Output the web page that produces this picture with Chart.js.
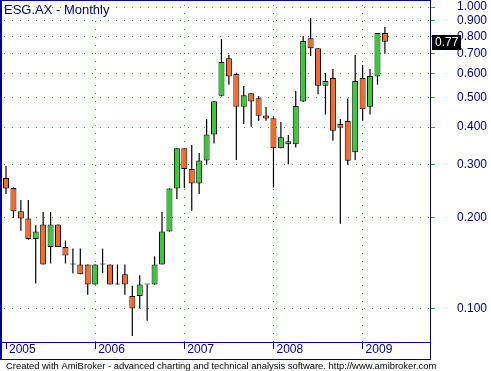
<!DOCTYPE html>
<html>
<head>
<meta charset="utf-8">
<script src="https://cdn.jsdelivr.net/npm/chart.js@4.4.0/dist/chart.umd.min.js"></script>
<style>
  html, body { margin: 0; padding: 0; background: #fff; }
  canvas { display: block; }
</style>
</head>
<body>
<canvas id="chart" width="491" height="371"></canvas>
<script>
const months = [
  '2005-01', '2005-02', '2005-03', '2005-04', '2005-05', '2005-06', '2005-07', '2005-08', '2005-09', '2005-10', '2005-11', '2005-12',
  '2006-01', '2006-02', '2006-03', '2006-04', '2006-05', '2006-06', '2006-07', '2006-08', '2006-09', '2006-10', '2006-11', '2006-12',
  '2007-01', '2007-02', '2007-03', '2007-04', '2007-05', '2007-06', '2007-07', '2007-08', '2007-09', '2007-10', '2007-11', '2007-12',
  '2008-01', '2008-02', '2008-03', '2008-04', '2008-05', '2008-06', '2008-07', '2008-08', '2008-09', '2008-10', '2008-11', '2008-12',
  '2009-01', '2009-02', '2009-03', '2009-04'
];
const opens = [
  0.271, 0.251, 0.210, 0.199, 0.170, 0.190, 0.160, 0.190, 0.160, 0.140, 0.140, 0.140,
  0.120, 0.140, 0.140, 0.120, 0.130, 0.110, 0.110, 0.120, 0.120, 0.140, 0.180, 0.250,
  0.340, 0.290, 0.260, 0.310, 0.378, 0.508, 0.676, 0.600, 0.467, 0.518, 0.498, 0.437,
  0.428, 0.340, 0.351, 0.351, 0.486, 0.788, 0.730, 0.548, 0.582, 0.409, 0.419, 0.330,
  0.582, 0.467, 0.589, 0.820
];
const highs = [
  0.297, 0.252, 0.229, 0.229, 0.189, 0.209, 0.209, 0.190, 0.168, 0.158, 0.158, 0.140,
  0.140, 0.158, 0.140, 0.140, 0.140, 0.119, 0.129, 0.120, 0.149, 0.209, 0.250, 0.340,
  0.340, 0.349, 0.328, 0.425, 0.487, 0.784, 0.694, 0.605, 0.547, 0.518, 0.507, 0.466,
  0.434, 0.416, 0.376, 0.527, 0.802, 0.920, 0.730, 0.604, 0.623, 0.425, 0.497, 0.694,
  0.643, 0.623, 0.820, 0.859
];
const lows = [
  0.240, 0.200, 0.181, 0.169, 0.121, 0.140, 0.141, 0.160, 0.141, 0.131, 0.130, 0.111,
  0.120, 0.131, 0.120, 0.120, 0.111, 0.081, 0.100, 0.091, 0.120, 0.140, 0.180, 0.231,
  0.251, 0.211, 0.240, 0.300, 0.353, 0.505, 0.553, 0.311, 0.409, 0.401, 0.420, 0.420,
  0.252, 0.340, 0.301, 0.342, 0.484, 0.688, 0.514, 0.440, 0.360, 0.191, 0.300, 0.311,
  0.420, 0.440, 0.553, 0.700
];
const closes = [
  0.250, 0.210, 0.199, 0.170, 0.180, 0.140, 0.190, 0.160, 0.150, 0.140, 0.130, 0.120,
  0.140, 0.140, 0.120, 0.120, 0.120, 0.100, 0.120, 0.120, 0.140, 0.180, 0.250, 0.340,
  0.290, 0.260, 0.310, 0.378, 0.487, 0.657, 0.588, 0.467, 0.510, 0.486, 0.436, 0.427,
  0.340, 0.370, 0.359, 0.470, 0.772, 0.730, 0.548, 0.569, 0.389, 0.398, 0.309, 0.569,
  0.458, 0.591, 0.820, 0.768
];
const priceTicks = [0.1, 0.2, 0.3, 0.4, 0.5, 0.6, 0.7, 0.8, 0.9, 1.0];

const navy = '#000088';
const dotGreen = '#00cc00';
const upColor = '#33cc33';
const downColor = '#ff6622';
const font = 'Liberation Sans, Arial, sans-serif';

// first bar of every year gets a tick
const yearStarts = months.map((m, i) => m.endsWith('-01') ? i : -1).filter(i => i >= 0);

const bodies = months.map((m, i) => ({ x: i, y: [opens[i], closes[i]] }));
const wicks = months.map((m, i) => ({ x: i, y: [lows[i], highs[i]] }));
const bodyColors = months.map((m, i) =>
  closes[i] > opens[i] ? upColor : (closes[i] < opens[i] ? downColor : '#000'));

const decorations = {
  id: 'decorations',
  afterDraw(chart) {
    const { ctx, chartArea: a, scales: { y } } = chart;
    ctx.save();
    ctx.strokeStyle = navy;
    ctx.lineWidth = 2;
    ctx.beginPath();
    ctx.moveTo(1, 0);
    ctx.lineTo(1, 360);
    ctx.stroke();
    ctx.lineWidth = 1;
    ctx.beginPath();
    ctx.moveTo(0, 0.5);
    ctx.lineTo(a.right + 1, 0.5);
    ctx.moveTo(a.right + 0.5, 0);
    ctx.lineTo(a.right + 0.5, 360);
    ctx.moveTo(0, 359.5);
    ctx.lineTo(a.right + 1, 359.5);
    ctx.stroke();

    // title
    ctx.fillStyle = navy;
    ctx.font = '13px ' + font;
    ctx.textBaseline = 'alphabetic';
    ctx.textAlign = 'left';
    ctx.fillText('ESG.AX - Monthly', 4, 13.5);

    // last close marker
    const last = closes[closes.length - 1];
    const py = y.getPixelForValue(last);
    ctx.fillStyle = '#000';
    ctx.fillRect(a.right + 2, Math.round(py) - 7, 29, 15);
    ctx.fillStyle = '#fff';
    ctx.font = '12px ' + font;
    ctx.textBaseline = 'middle';
    ctx.fillText(last.toFixed(2), a.right + 5, Math.round(py) + 0.5);

    // footer
    const footer = 'Created with AmiBroker - advanced charting and technical analysis software. http://www.amibroker.com';
    let size = 10;
    ctx.font = size + 'px ' + font;
    size = size * 431 / ctx.measureText(footer).width;
    ctx.font = size.toFixed(2) + 'px ' + font;
    ctx.fillStyle = '#000';
    ctx.textBaseline = 'alphabetic';
    ctx.fillText(footer, 6, 368.5);
    ctx.restore();
  }
};

new Chart(document.getElementById('chart'), {
  type: 'bar',
  data: {
    datasets: [{
      label: 'Body',
      data: bodies,
      backgroundColor: bodyColors,
      borderColor: '#000',
      borderWidth: 1,
      borderSkipped: false,
      barThickness: 6,
      minBarLength: 1,
      inflateAmount: 0,
      grouped: false,
      order: 0
    }, {
      label: 'Wick',
      data: wicks,
      backgroundColor: '#000',
      borderWidth: 0,
      barThickness: 1.2,
      inflateAmount: 0,
      grouped: false,
      order: 1
    }]
  },
  options: {
    responsive: false,
    animation: false,
    devicePixelRatio: 1,
    layout: { padding: { top: 1, left: 2, right: 0, bottom: 12 } },
    plugins: {
      legend: { display: false },
      tooltip: { enabled: false }
    },
    scales: {
      x: {
        type: 'linear',
        position: 'bottom',
        min: -0.54,
        max: 57.07,
        offset: false,
        afterBuildTicks: s => { s.ticks = yearStarts.map(i => ({ value: i })); },
        afterFit: s => { s.height = 17; s.paddingLeft = 0; s.paddingRight = 0; },
        grid: {
          offset: false,
          color: c => c.index === 0 ? 'rgba(0,0,0,0)' : dotGreen,
          tickLength: 7,
          tickColor: navy
        },
        border: { color: navy, width: 1, dash: [1, 7], dashOffset: 4 },
        ticks: {
          align: 'start',
          labelOffset: 3,
          padding: -7,
          maxRotation: 0,
          autoSkip: false,
          color: navy,
          font: { family: font, size: 12 },
          callback: (v, i) => months[yearStarts[i]].slice(0, 4)
        }
      },
      y: {
        type: 'logarithmic',
        position: 'right',
        min: 0.0774,
        max: 1.0477,
        afterBuildTicks: s => { s.ticks = priceTicks.map(v => ({ value: v })); },
        afterFit: s => { s.width = 61; s.paddingTop = 0; s.paddingBottom = 0; },
        grid: { color: dotGreen, tickLength: 5, tickColor: dotGreen },
        border: { color: navy, width: 1, dash: [1, 7], dashOffset: 6 },
        ticks: {
          padding: 22,
          autoSkip: false,
          color: navy,
          font: { family: font, size: 12 },
          callback: v => v.toFixed(3)
        }
      }
    }
  },
  plugins: [decorations]
});
</script>
</body>
</html>
